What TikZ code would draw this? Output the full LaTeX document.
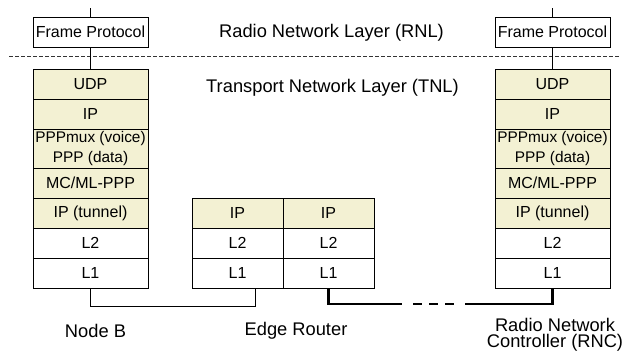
\documentclass[tikz,border=0pt]{standalone}
\usepackage{fontspec}
\setmainfont{Liberation Sans}
\usetikzlibrary{calc}
\definecolor{stackfill}{RGB}{243,241,211}
\tikzset{
    layerbox/.style={draw, line width=1pt, minimum width=115pt,
        minimum height=30pt, inner sep=0pt,
        font=\fontsize{16}{20}\selectfont},
    iplayer/.style={layerbox, fill=stackfill},
    routerbox/.style={minimum width=91pt},
    wire/.style={line width=1pt},
    trunk/.style={line width=2.4pt},
    hostlabel/.style={font=\fontsize{18.3}{16.5}\selectfont, align=center},
}
\begin{document}
\begin{tikzpicture}
        [x=1pt, y=-1pt]
        \useasboundingbox (0,0) rectangle (628,360);
        % layer separator
        \draw[dash pattern=on 4pt off 2pt, line width=0.9pt, black!80]
            (9,56) -- (620,56);
        \node[hostlabel] (rnl) at (331.5,33) {Radio Network Layer (RNL)};
        \node[hostlabel] (tnl) at (332.5,88) {Transport Network Layer (TNL)};
        % Node B stack
        \node[layerbox] (fpB) at (90.5,32) {Frame Protocol};
        \node[iplayer] (udpB) at (90.5,84) {UDP};
        \node[iplayer] (ipB) at (90.5,114) {IP};
        \node[iplayer, minimum height=39pt, align=center,
            font=\fontsize{15.4}{20}\selectfont] (pppB) at (90.5,148.5)
            {PPPmux (voice)\\PPP (data)};
        \node[iplayer] (mcB) at (90.5,183) {MC/ML-PPP};
        \node[iplayer] (tunB) at (90.5,213) {IP (tunnel)};
        \node[layerbox] (ltwoB) at (90.5,243) {L2};
        \node[layerbox] (loneB) at (90.5,273) {L1};
        \coordinate (topB) at (90.5,8);
        % RNC stack
        \node[layerbox] (fpR) at (552.5,32) {Frame Protocol};
        \node[iplayer] (udpR) at (552.5,84) {UDP};
        \node[iplayer] (ipR) at (552.5,114) {IP};
        \node[iplayer, minimum height=39pt, align=center,
            font=\fontsize{15.4}{20}\selectfont] (pppR) at (552.5,148.5)
            {PPPmux (voice)\\PPP (data)};
        \node[iplayer] (mcR) at (552.5,183) {MC/ML-PPP};
        \node[iplayer] (tunR) at (552.5,213) {IP (tunnel)};
        \node[layerbox] (ltwoR) at (552.5,243) {L2};
        \node[layerbox] (loneR) at (552.5,273) {L1};
        \coordinate (topR) at (552.5,8);
        % Edge router
        \node[iplayer, routerbox] (ipEa) at (237.5,213) {IP};
        \node[layerbox, routerbox] (ltwoEa) at (237.5,243) {L2};
        \node[layerbox, routerbox] (loneEa) at (237.5,273) {L1};
        \node[iplayer, routerbox] (ipEb) at (328.5,213) {IP};
        \node[layerbox, routerbox] (ltwoEb) at (328.5,243) {L2};
        \node[layerbox, routerbox] (loneEb) at (328.5,273) {L1};
        % protocol links
        \draw[wire] (fpB.north) -- (topB);
        \draw[wire] (fpB.south) -- (udpB.north);
        \draw[wire] (fpR.north) -- (topR);
        \draw[wire] (fpR.south) -- (udpR.north);
        % physical links
        \draw[wire] (loneB.south) -- ++(0,18)
            -| ($(loneEa.south)!0.4!(loneEa.south east)$);
        \coordinate (gapL) at (402,304);
        \coordinate (gapR) at (465,304);
        \draw[trunk] (loneEb.south) |- (gapL);
        \draw[trunk] (gapR) -| (loneR.south);
        \draw[trunk, dash pattern=on 9pt off 7pt]
            ($(gapL)+(11,0)$) -- ($(gapR)+(-11,0)$);
        % host names
        \node[hostlabel] (nameB) at (95.5,331) {Node B};
        \node[hostlabel] (nameE) at (296,331) {Edge Router};
        \node[hostlabel] (nameR) at (555,335) {Radio Network\\Controller (RNC)};
        \end{tikzpicture}
\end{document}
